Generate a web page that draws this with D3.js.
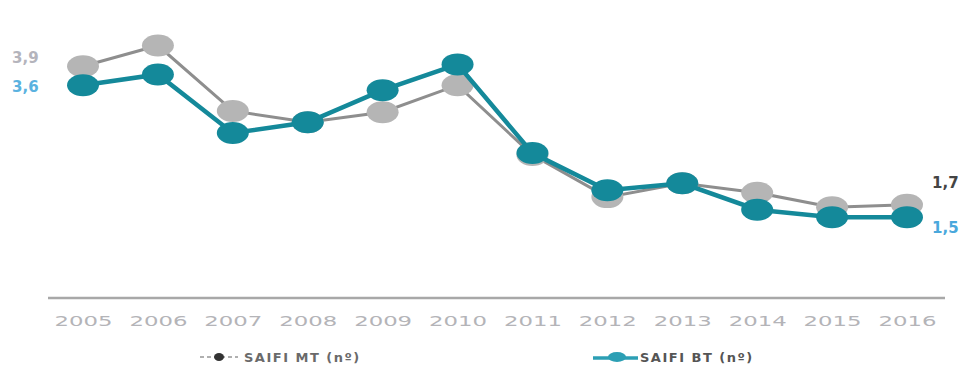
<!DOCTYPE html>
<html><head><meta charset="utf-8">
<script src="https://cdn.jsdelivr.net/npm/d3@7"></script>
<style>body{margin:0;background:#fff;}svg{display:block;}</style>
</head><body>
<svg id="chart" width="960" height="370"></svg>
<script>
const years = ["2005","2006","2007","2008","2009","2010","2011","2012","2013","2014","2015","2016"];
const saifiMT = [3.9, 4.23, 3.19, 3.01, 3.17, 3.6, 2.49, 1.82, 2.04, 1.89, 1.66, 1.7];
const saifiBT = [3.6, 3.77, 2.84, 3.01, 3.52, 3.93, 2.52, 1.93, 2.04, 1.62, 1.5, 1.5];
const seriesNames = ["SAIFI MT (nº)", "SAIFI BT (nº)"];

const svg = d3.select("#chart");
const x = d3.scalePoint().domain(years).range([83, 907]);
const y = d3.scaleLinear().domain([0.2, 4.0]).range([299, 60]);
const fmt = v => d3.format(".1f")(v).replace(".", ",");

// baseline axis
const xAxis = d3.axisBottom(x).tickSize(0).tickPadding(18);
const ax = svg.append("g").attr("transform", "translate(0,298)").call(xAxis);
ax.select(".domain").attr("d", "M48,0H945").attr("stroke", "#a8a8a8").attr("stroke-width", 2.5);
ax.selectAll("text").attr("fill", "#b4b4b8").attr("font-family", "DejaVu Sans, sans-serif")
  .attr("font-size", 14).attr("textLength", 58).attr("lengthAdjust", "spacingAndGlyphs");

const line = d3.line().x((d, i) => x(years[i])).y(d => y(d));

const colMT = "#b5b5b5", colMTline = "#8e8e8e", colBT = "#14899a";

svg.append("path").datum(saifiMT).attr("d", line).attr("fill", "none")
  .attr("stroke", colMTline).attr("stroke-width", 3);
svg.append("g").selectAll("ellipse").data(saifiMT).join("ellipse")
  .attr("cx", (d, i) => x(years[i])).attr("cy", d => y(d))
  .attr("rx", 16).attr("ry", 11).attr("fill", colMT);

svg.append("path").datum(saifiBT).attr("d", line).attr("fill", "none")
  .attr("stroke", colBT).attr("stroke-width", 4.5);
svg.append("g").selectAll("ellipse").data(saifiBT).join("ellipse")
  .attr("cx", (d, i) => x(years[i])).attr("cy", d => y(d))
  .attr("rx", 16).attr("ry", 11).attr("fill", colBT);

// end labels
const lab = (t, xx, yy, c, anchor) => svg.append("text").text(t).attr("x", xx).attr("y", yy)
  .attr("fill", c).attr("font-family", "DejaVu Sans, sans-serif").attr("font-weight", "bold")
  .attr("font-size", 15).attr("text-anchor", anchor).attr("dominant-baseline", "middle");
lab(fmt(saifiMT[0]), 12, y(saifiMT[0]) - 8, "#b4b4bc", "start");
lab(fmt(saifiBT[0]), 12, y(saifiBT[0]) + 2, "#5ab2e0", "start");
lab(fmt(saifiMT[11]), 932, y(saifiMT[11]) - 21, "#444", "start");
lab(fmt(saifiBT[11]), 932, y(saifiBT[11]) + 11, "#4aa8dc", "start");

// legend
const lg = svg.append("g");
lg.append("line").attr("x1", 200).attr("x2", 238).attr("y1", 357).attr("y2", 357)
  .attr("stroke", "#b0b0b0").attr("stroke-width", 2).attr("stroke-dasharray", "4,3");
lg.append("ellipse").attr("cx", 219).attr("cy", 357).attr("rx", 5).attr("ry", 4).attr("fill", "#333");
lg.append("text").text(seriesNames[0]).attr("x", 244).attr("y", 362)
  .attr("fill", "#6a6a6a").attr("font-family", "DejaVu Sans, sans-serif").attr("font-weight", "bold")
  .attr("font-size", 13).attr("letter-spacing", "1.5px");
lg.append("line").attr("x1", 593).attr("x2", 638).attr("y1", 358).attr("y2", 358)
  .attr("stroke", "#2c9fb4").attr("stroke-width", 3.5);
lg.append("ellipse").attr("cx", 617).attr("cy", 357).attr("rx", 9).attr("ry", 5).attr("fill", "#2c9fb4");
lg.append("text").text(seriesNames[1]).attr("x", 640).attr("y", 362)
  .attr("fill", "#555").attr("font-family", "DejaVu Sans, sans-serif").attr("font-weight", "bold")
  .attr("font-size", 13).attr("letter-spacing", "1.5px");
</script>
</body></html>
